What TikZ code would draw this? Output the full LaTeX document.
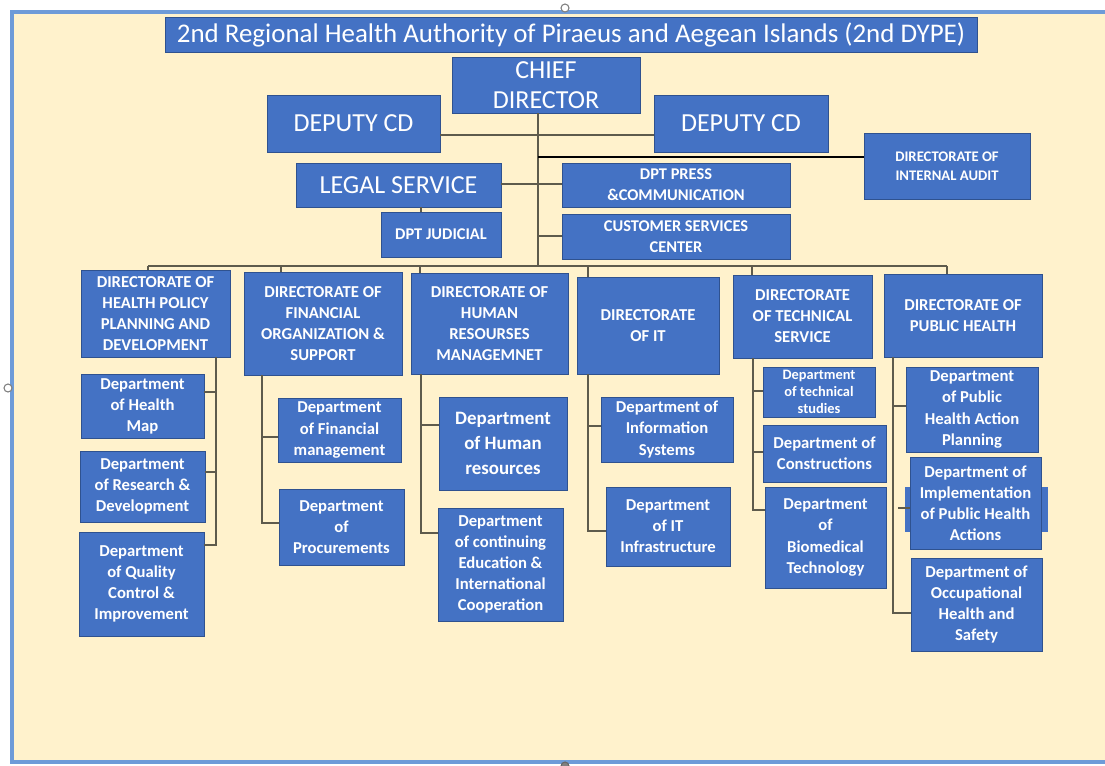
\documentclass[tikz,border=0pt]{standalone}
\usepackage{fontspec}
\setmainfont{Carlito}
\definecolor{boxblue}{HTML}{4472C4}
\definecolor{boxedge}{HTML}{2F528F}
\definecolor{cream}{HTML}{FFF2CC}
\definecolor{framecol}{HTML}{6E9BD8}
\definecolor{linecol}{HTML}{5E5B4C}
\tikzset{
  box/.style={fill=boxblue, draw=boxedge, line width=0.6pt, text=white, align=center, inner sep=1pt, font=\bfseries\fontsize{12.5}{15.8}\selectfont},
  big/.style={font=\fontsize{19.5}{22.5}\selectfont},
  small/.style={font=\bfseries\fontsize{12.3}{15.5}\selectfont},
  tiny/.style={font=\bfseries\fontsize{10.8}{13}\selectfont},
  conn/.style={draw=linecol, line width=1.1pt},
}
\newcommand\bx[7][]{\node[box,#1,minimum width={(#4-#2)*0.75pt},minimum height={(#5-#3)*0.75pt}] (#6) at ({(#2+#4)/2},{(#3+#5)/2}) {#7};}
\begin{document}
\begin{tikzpicture}[x=0.75pt,y=-0.75pt]
\useasboundingbox (0,0) rectangle (1105,765);
\fill[white] (0,0) rectangle (1105,765);
\draw[fill=cream, draw=framecol, line width=2.4pt] (12,12) rectangle (1118,762);
% handles
\draw[gray, line width=0.8pt, fill=white] (565,8) circle (4);
\draw[gray, line width=0.8pt, fill=white] (8,388) circle (4);
\draw[gray!80!black, line width=0.8pt, fill=gray] (565,766) circle (4);

% top
\bx[font=\fontsize{20.2}{23}\selectfont]{165}{17}{977}{52}{title}{2nd Regional Health Authority of Piraeus and Aegean Islands (2nd DYPE)}
\bx[big]{452}{57}{640}{113}{chief}{CHIEF\\DIRECTOR}
\bx[big]{267}{95}{440}{152}{depL}{DEPUTY CD}
\bx[big]{654}{95}{828}{152}{depR}{DEPUTY CD}
\bx[font=\bfseries\fontsize{11}{14.5}\selectfont]{864}{133}{1030}{199}{audit}{DIRECTORATE OF\\INTERNAL AUDIT}
\bx[big]{296}{163}{501}{207}{legal}{LEGAL SERVICE}
\bx[small]{562}{163}{790}{207}{press}{DPT PRESS\\\&COMMUNICATION}
\bx[small]{381}{212}{501}{257}{judicial}{DPT JUDICIAL}
\bx[small]{562}{214}{790}{259}{customer}{CUSTOMER SERVICES\\CENTER}

% directorates
\bx{81}{270}{230}{357}{d1}{DIRECTORATE OF\\HEALTH POLICY\\PLANNING AND\\DEVELOPMENT}
\bx{244}{272}{402}{375}{d2}{DIRECTORATE OF\\FINANCIAL\\ORGANIZATION \&\\SUPPORT}
\bx{411}{273}{568}{374}{d3}{DIRECTORATE OF\\HUMAN\\RESOURSES\\MANAGEMNET}
\bx{577}{277}{719}{374}{d4}{DIRECTORATE\\OF IT}
\bx{733}{275}{872}{358}{d5}{DIRECTORATE\\OF TECHNICAL\\SERVICE}
\bx{884}{274}{1042}{357}{d6}{DIRECTORATE OF\\PUBLIC HEALTH}

% departments
\bx{81}{374}{204}{438}{a1}{Department\\of Health\\Map}
\bx{80}{451}{205}{522}{a2}{Department\\of Research \&\\Development}
\bx{79}{532}{204}{636}{a3}{Department\\of Quality\\Control \&\\Improvement}
\bx{278}{398}{401}{462}{b1}{Department\\of Financial\\management}
\bx{279}{489}{404}{565}{b2}{Department\\of\\Procurements}
\bx[font=\bfseries\fontsize{14.2}{18.5}\selectfont]{439}{397}{567}{490}{c1}{Department\\of Human\\resources}
\bx{438}{508}{563}{621}{c2}{Department\\of continuing\\Education \&\\International\\Cooperation}
\bx{601}{397}{733}{462}{e1}{Department of\\Information\\Systems}
\bx{606}{487}{730}{566}{e2}{Department\\of IT\\Infrastructure}
\bx[tiny]{763}{367}{875}{417}{f1}{Department\\of technical\\studies}
\bx{763}{425}{886}{482}{f2}{Department of\\Constructions}
\bx{765}{487}{886}{588}{f3}{Department\\of\\Biomedical\\Technology}
\bx{906}{367}{1038}{452}{g1}{Department\\of Public\\Health Action\\Planning}
\fill[boxblue] (905,487) rectangle (1048,532);
\bx{910}{457}{1041}{549}{g2}{Department of\\Implementation\\of Public Health\\Actions}
\bx{911}{558}{1042}{651}{g3}{Department of\\Occupational\\Health and\\Safety}

% connectors top
\coordinate (busC) at (538,266);
\coordinate (t1) at (148,266);
\coordinate (t2) at (281,266);
\coordinate (t3) at (420,266);
\coordinate (t4) at (588,266);
\coordinate (t5) at (752,266);
\coordinate (t6) at (947,266);
\draw[conn] (chief.south -| busC) -- (busC);
\draw[conn] (depL.east |- 0,135) -- (depR.west |- 0,135);
\draw[draw=black, line width=1.4pt] (busC |- 0,157) -- (audit.west |- 0,157);
\draw[conn] (legal.east |- 0,184) -- (press.west |- 0,184);
\draw[conn] (busC |- 0,236) -- (customer.west |- 0,236);
\draw[conn] (judicial.north -| 421,0) -- (legal.south -| 421,0);
\draw[conn] (t1) -- (t6);
\foreach \t/\d in {t1/d1,t2/d2,t3/d3,t4/d4,t5/d5,t6/d6}{\draw[conn] (\t) -- (\t |- \d.north);}

% spines
\draw[conn] (d1.south -| 216,0) |- (a3.east |- 0,545);
\draw[conn] (a1.east |- 0,392) -- ++(12,0);
\draw[conn] (a2.east |- 0,472) -- ++(11,0);
\draw[conn] (d2.south -| 262,0) |- (b2.west |- 0,523);
\draw[conn] (b1.west |- 0,437) -- ++(-16,0);
\draw[conn] (d3.south -| 421,0) |- (c2.west |- 0,533);
\draw[conn] (c1.west |- 0,425) -- ++(-18,0);
\draw[conn] (d4.south -| 588,0) |- (e2.west |- 0,531);
\draw[conn] (e1.west |- 0,426) -- ++(-13,0);
\draw[conn] (d5.south -| 753,0) |- (f3.west |- 0,510);
\draw[conn] (f1.west |- 0,391) -- ++(-10,0);
\draw[conn] (f2.west |- 0,452) -- ++(-10,0);
\draw[conn] (d6.south -| 893,0) |- (g3.west |- 0,613);
\draw[conn] (g1.west |- 0,406) -- ++(-13,0);
\draw[conn] (g2.west |- 0,508) -- ++(-12,0);
\end{tikzpicture}
\end{document}
